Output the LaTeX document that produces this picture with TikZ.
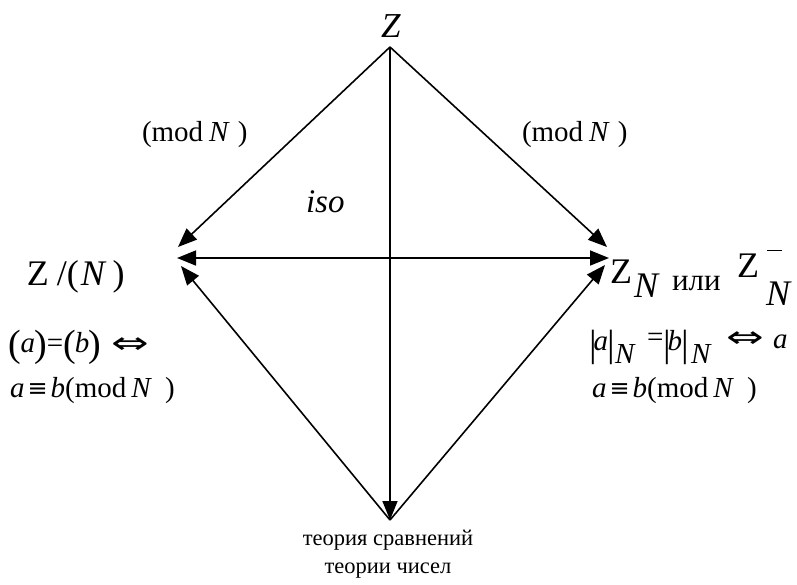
\documentclass[tikz,border=0pt]{standalone}
\usepackage{fontspec}
\usepackage{graphicx}
\setmainfont{Liberation Serif}
\newfontfamily\symf{DejaVu Sans}
\usetikzlibrary{arrows.meta}
\newcommand\fsz[1]{\fontsize{#1}{#1}\selectfont}
\newcommand\iffsym{\scalebox{1.5}[1.0]{\symf\fsz{30}⇔}}
\newcommand\eqvsym{\raisebox{1pt}{\symf\fsz{24}≡}}
\newcommand\bigbar{{\fsz{38}|}}
\begin{document}
\begin{tikzpicture}[x=1pt,y=-1pt,
  txt/.style={inner sep=0pt,outer sep=0pt,anchor=base west},
  ln/.style={line width=1.6pt},
  arr/.style={ln,-{Triangle[length=19pt,width=15pt]}},
  darr/.style={ln,{Triangle[length=19pt,width=15pt]}-{Triangle[length=19pt,width=15pt]}}]
\useasboundingbox (0,0) rectangle (797,584);
% points
\coordinate (top) at (390,47);
\coordinate (bot) at (390,520);
\coordinate (Lh) at (177,258);
\coordinate (Rh) at (609,258);
\coordinate (Lt) at (178,247);
\coordinate (Lb) at (181,266);
\coordinate (Rt) at (607,247);
\coordinate (Rb) at (605,265);
% connectors
\draw[arr] (top) -- (Lt);
\draw[arr] (top) -- (Rt);
\draw[arr] (top) -- (bot);
\draw[arr] (bot) -- (Lb);
\draw[arr] (bot) -- (Rb);
\draw[darr] (Lh) -- (Rh);
% texts
\node[txt,anchor=base] (zt) at (391,37) {\fsz{35}\textit{Z}};
\node[txt] (modl) at (142,141) {\fsz{29}(mod\hspace{6pt}\textit{N}\hspace{8pt})};
\node[txt] (modr) at (522,141) {\fsz{29}(mod\hspace{6pt}\textit{N}\hspace{8pt})};
\node[txt] (iso) at (306,212) {\fsz{33}\textit{iso}};
\node[txt] (zl) at (27,285) {\fsz{36}Z\hspace{8pt}/(\hspace{2pt}\textit{N}\hspace{6pt})};
% left row 2
\node[txt] (leqv) at (9,356) {{\fsz{38}(}\kern-1pt\raisebox{4pt}{\fsz{29}\textit{a}}\kern-1pt{\fsz{38})}\raisebox{4pt}{\fsz{29}=}{\fsz{38}(}\kern-1pt\raisebox{4pt}{\fsz{29}\textit{b}}\kern-1pt{\fsz{38})}};
\node[inner sep=0pt] (liff) at (130,346) {\iffsym};
% left row 3
\node[txt] (cgl) at (10,397) {\fsz{29}\textit{a}\hspace{3pt}\eqvsym\hspace{3pt}\textit{b}(mod\hspace{5pt}\textit{N}\hspace{13pt})};
% right row 1
\node[txt] (zr) at (610,283) {\fsz{36}Z};
\node[txt] (nr) at (634,297) {\fsz{36}\textit{N}};
\node[txt] (ili) at (672,290) {\fsz{31}или};
\node[txt] (zr2) at (737,277) {\fsz{36}Z};
\node[txt] (br2) at (767,251) {\fsz{30}\rule{15pt}{1.2pt}};
\node[txt] (nr2) at (766,305) {\fsz{36}\textit{N}};
% right row 2
\node[txt] (rab) at (589,356) {\bigbar\kern-3pt\raisebox{6pt}{\fsz{29}\textit{a}}\kern-1pt\bigbar};
\node[txt] (rn1) at (615,363) {\fsz{29}\textit{N}};
\node[txt] (req) at (647,346) {\fsz{29}=};
\node[txt] (rbb) at (663,356) {\bigbar\kern-3pt\raisebox{6pt}{\fsz{29}\textit{b}}\kern-1pt\bigbar};
\node[txt] (rn2) at (691,363) {\fsz{29}\textit{N}};
\node[inner sep=0pt] (riff) at (745,340) {\iffsym};
\node[txt] (ra2) at (773,348) {\fsz{29}\textit{a}};
% right row 3
\node[txt] (cgr) at (592,397) {\fsz{29}\textit{a}\hspace{3pt}\eqvsym\hspace{3pt}\textit{b}(mod\hspace{5pt}\textit{N}\hspace{13pt})};
% bottom
\node[txt,anchor=base] (b1) at (388,545) {\fsz{22.5}теория сравнений};
\node[txt,anchor=base] (b2) at (388,573) {\fsz{22.5}теории чисел};
\end{tikzpicture}
\end{document}
